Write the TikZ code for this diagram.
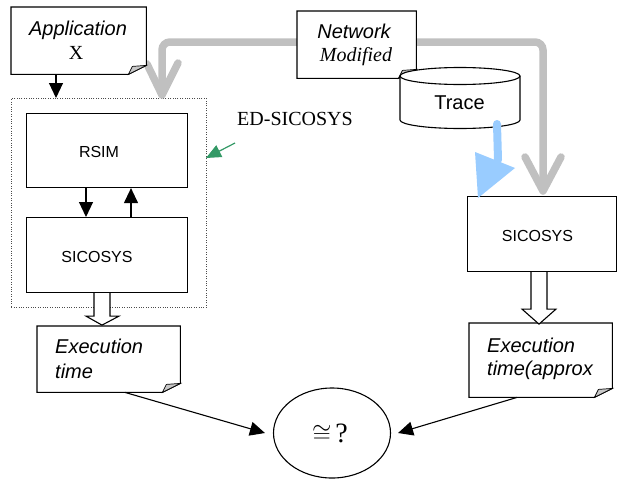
\documentclass[tikz,border=0pt]{standalone}
\usepackage{fontspec}
\setmainfont{Liberation Serif}
\newfontfamily\arialfont{Liberation Sans}
\usetikzlibrary{arrows.meta,shapes.geometric,calc}
\definecolor{greyarrow}{RGB}{192,192,192}
\definecolor{bluearrow}{RGB}{153,204,255}
\definecolor{greenarrow}{RGB}{51,153,102}
\definecolor{foldgrey}{RGB}{200,200,200}
\newcommand\notepath[1]{%
  \draw[line width=1.1pt, fill=white] (#1.north west) -- (#1.north east) -- ([yshift=9pt]#1.south east) -- ([xshift=-18pt]#1.south east) -- (#1.south west) -- cycle;
  \filldraw[line width=0.7pt, fill=foldgrey] ([xshift=-18pt]#1.south east) -- ([xshift=-14pt,yshift=8pt]#1.south east) -- ([yshift=9pt]#1.south east) -- cycle;}
\begin{document}
\begin{tikzpicture}[x=1pt,y=-1pt,
  box/.style={draw, line width=1.1pt, fill=white, inner sep=0pt, anchor=north west},
  area/.style={inner sep=0pt, anchor=north west},
  lbl/.style={inner sep=0pt, anchor=base},
  lblw/.style={inner sep=0pt, anchor=base west},
  arit/.style={font=\arialfont\itshape\fontsize{20}{24}\selectfont},
  arrm/.style={font=\arialfont\fontsize{16}{19}\selectfont},
  trm/.style={font=\fontsize{20}{24}\selectfont},
  trit/.style={font=\fontsize{20}{24}\selectfont\itshape},
  blk/.style={line width=1.1pt, -{Triangle[length=15pt,width=14pt]}},
  hollow/.style={draw, fill=white, line width=1.1pt, line join=miter},
  grey/.style={greyarrow, line width=7.5pt, line cap=round, line join=round}]
\useasboundingbox (0,0) rectangle (617,479);

% ED-SICOSYS dotted frame
\node[area, draw=black!70, line width=0.9pt, dash pattern=on 1pt off 1.4pt, minimum width=195pt, minimum height=209pt] (edsic) at (11,98) {};

% grey arrows from Network
\draw[greyarrow, line width=7.5pt, rounded corners=8pt] (297,42) -- (162,42) -- (162,94);
\draw[grey] (147,64) -- (162,95) -- (178,63);
\draw[greyarrow, line width=7.5pt, rounded corners=8pt] (416,42) -- (543,42) -- (543,190);
\draw[grey] (525,157) -- (543,191) -- (561,157);

% boxes
\node[box, minimum width=161pt, minimum height=74pt] (rsim) at (26,113) {};
\node[box, minimum width=161pt, minimum height=75pt] (sicL) at (26,217) {};
\node[box, minimum width=148.5pt, minimum height=75pt] (sicR) at (467,196) {};

% notes
\node[area, minimum width=135pt, minimum height=67pt] (app) at (11,7) {};
\notepath{app}
\node[area, minimum width=119pt, minimum height=67pt] (net) at (297,11) {};
\notepath{net}
\node[area, minimum width=143pt, minimum height=66pt] (exL) at (37,326) {};
\notepath{exL}
\node[area, minimum width=143pt, minimum height=74pt] (exR) at (469,323) {};
\notepath{exR}

% Trace cylinder
\draw[line width=1.1pt, fill=white] (400,76) -- (400,120) arc[start angle=180,end angle=360,x radius=60pt,y radius=8.5pt] -- (520,76) arc[start angle=0,end angle=180,x radius=60pt,y radius=8.5pt] -- cycle;
\draw[line width=1.1pt] (400,76) arc[start angle=180,end angle=360,x radius=60pt,y radius=8.5pt];
\node[lbl, font=\arialfont\fontsize{20}{24}\selectfont] (trace) at (459.5,109) {Trace};

% blue arrow from Trace
\coordinate (blueStart) at (497,124);
\coordinate (blueEnd) at (498,160);
\draw[bluearrow, line width=8pt, line cap=round] (blueStart) -- (blueEnd);
\fill[bluearrow] (475,152) -- (515,168) -- (478,198) -- cycle;

% texts
\node[lbl, arit] (appT) at (78,35) {Application};
\node[lbl, trm] (appX) at (76,59) {X};
\node[lbl, arit] (netT) at (354,38) {Network};
\node[lbl, trit] (netM) at (356,61) {Modified};
\node[lbl, arrm] (rsimT) at (99,157) {RSIM};
\node[lbl, arrm] (sicLT) at (97,262) {SICOSYS};
\node[lbl, arrm] (sicRT) at (537.5,241) {SICOSYS};
\node[lbl, trm] (edT) at (295,125) {ED-SICOSYS};
\node[lblw, arit] (exL1) at (55,353) {Execution};
\node[lblw, arit] (exL2) at (55,378) {time};
\node[lblw, arit] (exR1) at (487,352) {Execution};
\node[lblw, arit] (exR2) at (487,375) {time(approx};

% comparison ellipse
\node[ellipse, draw, line width=1.1pt, minimum width=117pt, minimum height=90pt, inner sep=0pt] (cmp) at (332,433) {};
\node[lbl, font=\fontsize{28}{32}\selectfont] (cmpT) at (330,442) {$\cong$\kern4pt?};

% green arrow
\coordinate (greenStart) at (235,143);
\coordinate (greenEnd) at (206,158);
\draw[greenarrow, line width=1.2pt, -{Triangle[length=15pt,width=13pt]}] (greenStart) -- (greenEnd);

% black arrows
\draw[blk] ($(app.south west)+(45,0)$) -- ($(edsic.north west)+(45,0)$);
\draw[blk] ($(rsim.south west)+(60,0)$) -- ($(sicL.north west)+(60,0)$);
\draw[blk] ($(sicL.north west)+(105,0)$) -- ($(rsim.south west)+(105,0)$);
\draw[blk] ($(exL.south west)+(88,0)$) -- ([xshift=-8pt]cmp.west);
\draw[blk] ($(exR.south west)+(48,0)$) -- ([xshift=7pt]cmp.east);

% hollow arrows
\coordinate (hl) at ($(sicL.south west)+(76,0)$);
\draw[hollow] ($(hl)+(-8,0)$) -- ++(0,23) -- ++(-8,0) -- ($(hl)+(0,32)$) -- ++(17,-9) -- ++(-9,0) -- ++(0,-23);
\coordinate (hr) at ($(sicR.south west)+(72,0)$);
\draw[hollow] ($(hr)+(-8,0)$) -- ++(0,37) -- ++(-9,0) -- ($(hr)+(0,52)$) -- ++(17,-15) -- ++(-9,0) -- ++(0,-37);
\end{tikzpicture}
\end{document}
